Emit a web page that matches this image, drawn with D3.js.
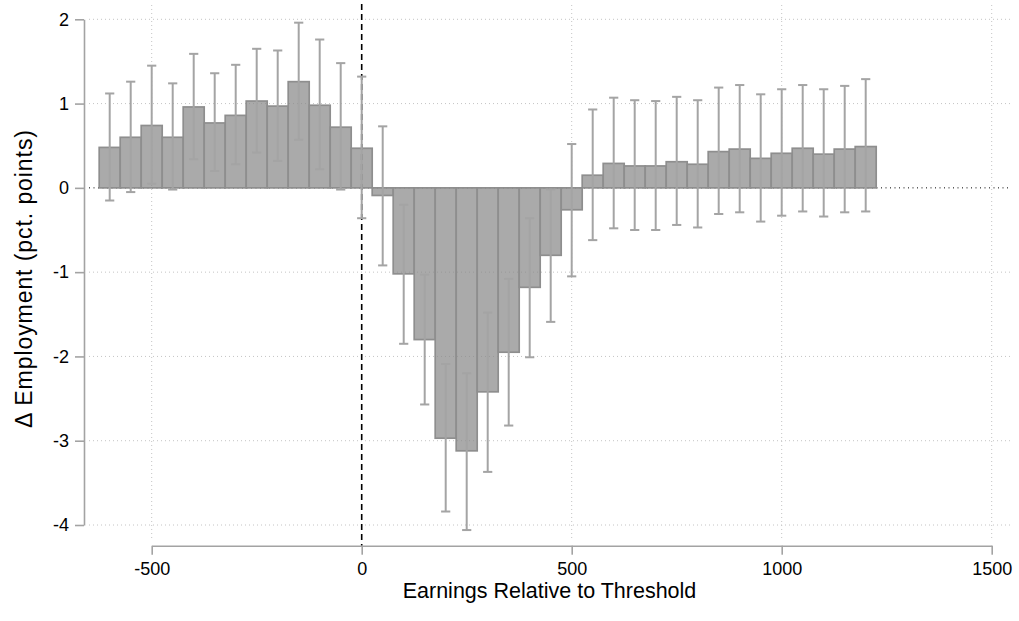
<!DOCTYPE html>
<html>
<head>
<meta charset="utf-8">
<script src="https://cdn.jsdelivr.net/npm/d3@7"></script>
<style>
  html, body { margin: 0; padding: 0; background: #fff; }
  svg { display: block; }
  text { font-family: "Liberation Sans", Arial, Helvetica, sans-serif; fill: #000; }
</style>
</head>
<body>
<svg id="chart" width="1019" height="621"></svg>
<script>
// Earnings bins (centre of each 50-unit bin, relative to the threshold)
const bins = [-600, -550, -500, -450, -400, -350, -300, -250, -200, -150, -100, -50,
  0, 50, 100, 150, 200, 250, 300, 350, 400, 450, 500,
  550, 600, 650, 700, 750, 800, 850, 900, 950, 1000, 1050, 1100, 1150, 1200];

// Point estimates of the change in employment (pct. points)
const estimate = [0.48, 0.60, 0.74, 0.60, 0.96, 0.77, 0.86, 1.03, 0.97, 1.26, 0.98, 0.72,
  0.47, -0.09, -1.02, -1.80, -2.97, -3.12, -2.42, -1.95, -1.18, -0.80, -0.26,
  0.15, 0.29, 0.26, 0.26, 0.31, 0.28, 0.43, 0.46, 0.35, 0.41, 0.47, 0.40, 0.46, 0.49];

// Confidence interval bounds
const ciHigh = [1.12, 1.26, 1.45, 1.24, 1.59, 1.36, 1.46, 1.65, 1.63, 1.96, 1.76, 1.48,
  1.32, 0.73, -0.20, -1.03, -2.09, -2.20, -1.48, -1.08, -0.36, -0.02, 0.52,
  0.93, 1.07, 1.04, 1.03, 1.08, 1.04, 1.19, 1.22, 1.11, 1.17, 1.22, 1.17, 1.21, 1.29];
const ciLow = [-0.15, -0.05, 0.05, -0.02, 0.34, 0.20, 0.28, 0.42, 0.32, 0.57, 0.22, -0.02,
  -0.36, -0.92, -1.85, -2.57, -3.84, -4.06, -3.37, -2.82, -2.01, -1.59, -1.05,
  -0.62, -0.48, -0.50, -0.50, -0.44, -0.47, -0.31, -0.29, -0.40, -0.33, -0.28, -0.34, -0.29, -0.28];

const binWidth = 50;
const xTicks = [-500, 0, 500, 1000, 1500];
const yTicks = [-4, -3, -2, -1, 0, 1, 2];
const xTitle = "Earnings Relative to Threshold";
const yTitle = "\u0394 Employment (pct. points)";

const data = bins.map((b, i) => ({ bin: b, est: estimate[i], lo: ciLow[i], hi: ciHigh[i] }));

const svg = d3.select("#chart");

// Plot region and axis placement
const region = { left: 89, right: 1010, top: 5, bottom: 540 };
const x = d3.scaleLinear().domain([-500, 1500]).range([151.7, 991.7]);
const y = d3.scaleLinear().domain([-4, 2]).range([525, 19.3]);
const yAxisX = 84;
const xAxisY = 545.7;

const axisGrey = "#a3a3a3";
const plainNumber = d => String(d);

// Grid lines
const grid = svg.append("g");
grid.selectAll("line.hgrid")
  .data(yTicks.filter(v => v !== 0))
  .join("line")
  .attr("x1", region.left).attr("x2", region.right)
  .attr("y1", d => y(d)).attr("y2", d => y(d))
  .attr("stroke", "#c4c4c4").attr("stroke-width", 1)
  .attr("stroke-dasharray", "1,3");
grid.selectAll("line.vgrid")
  .data(xTicks.filter(v => v !== 0))
  .join("line")
  .attr("x1", d => x(d)).attr("x2", d => x(d))
  .attr("y1", region.top).attr("y2", region.bottom)
  .attr("stroke", "#c4c4c4").attr("stroke-width", 1)
  .attr("stroke-dasharray", "1,3");

// Zero reference line
svg.append("line")
  .attr("x1", region.left).attr("x2", region.right)
  .attr("y1", y(0)).attr("y2", y(0))
  .attr("stroke", "#000").attr("stroke-width", 1)
  .attr("stroke-dasharray", "1,3.5");

// Threshold marker
svg.append("line")
  .attr("x1", x(0)).attr("x2", x(0))
  .attr("y1", 4).attr("y2", xAxisY)
  .attr("stroke", "#000").attr("stroke-width", 1.6)
  .attr("stroke-dasharray", "6,4");

// Bars
svg.append("g")
  .selectAll("rect")
  .data(data)
  .join("rect")
  .attr("x", d => x(d.bin - binWidth / 2))
  .attr("width", d => x(d.bin + binWidth / 2) - x(d.bin - binWidth / 2))
  .attr("y", d => y(Math.max(0, d.est)))
  .attr("height", d => Math.abs(y(d.est) - y(0)))
  .attr("fill", "#878787").attr("fill-opacity", 0.71)
  .attr("stroke", "#8e8e8e").attr("stroke-width", 1.7);

// Confidence intervals
const capHalf = 4.6;
const ci = svg.append("g").attr("stroke", "#a4a4a4").attr("stroke-width", 2);
ci.selectAll("line.stem")
  .data(data)
  .join("line")
  .attr("x1", d => x(d.bin)).attr("x2", d => x(d.bin))
  .attr("y1", d => y(d.lo)).attr("y2", d => y(d.hi));
ci.selectAll("line.capHi")
  .data(data)
  .join("line")
  .attr("x1", d => x(d.bin) - capHalf).attr("x2", d => x(d.bin) + capHalf)
  .attr("y1", d => y(d.hi)).attr("y2", d => y(d.hi));
ci.selectAll("line.capLo")
  .data(data)
  .join("line")
  .attr("x1", d => x(d.bin) - capHalf).attr("x2", d => x(d.bin) + capHalf)
  .attr("y1", d => y(d.lo)).attr("y2", d => y(d.lo));

// Axes
const yAxis = svg.append("g")
  .attr("transform", `translate(${yAxisX},0)`)
  .call(d3.axisLeft(y).tickValues(yTicks).tickFormat(plainNumber)
    .tickSize(9).tickSizeOuter(0).tickPadding(6));
const xAxis = svg.append("g")
  .attr("transform", `translate(0,${xAxisY})`)
  .call(d3.axisBottom(x).tickValues(xTicks).tickFormat(plainNumber)
    .tickSize(9).tickSizeOuter(0).tickPadding(8));

[yAxis, xAxis].forEach(g => {
  g.attr("font-family", "\"Liberation Sans\", Arial, Helvetica, sans-serif")
   .attr("font-size", 18);
  g.select(".domain").attr("stroke", axisGrey).attr("stroke-width", 1.6);
  g.selectAll(".tick line").attr("stroke", axisGrey).attr("stroke-width", 1.6);
  g.selectAll(".tick text").attr("fill", "#000");
});

// Axis titles
svg.append("text")
  .attr("x", (region.left + region.right) / 2)
  .attr("y", 598)
  .attr("text-anchor", "middle")
  .attr("font-size", 21.5)
  .text(xTitle);

svg.append("text")
  .attr("transform", "translate(32,279) rotate(-90)")
  .attr("text-anchor", "middle")
  .attr("font-size", 23)
  .attr("textLength", 298)
  .attr("lengthAdjust", "spacing")
  .text(yTitle);
</script>
</body>
</html>
